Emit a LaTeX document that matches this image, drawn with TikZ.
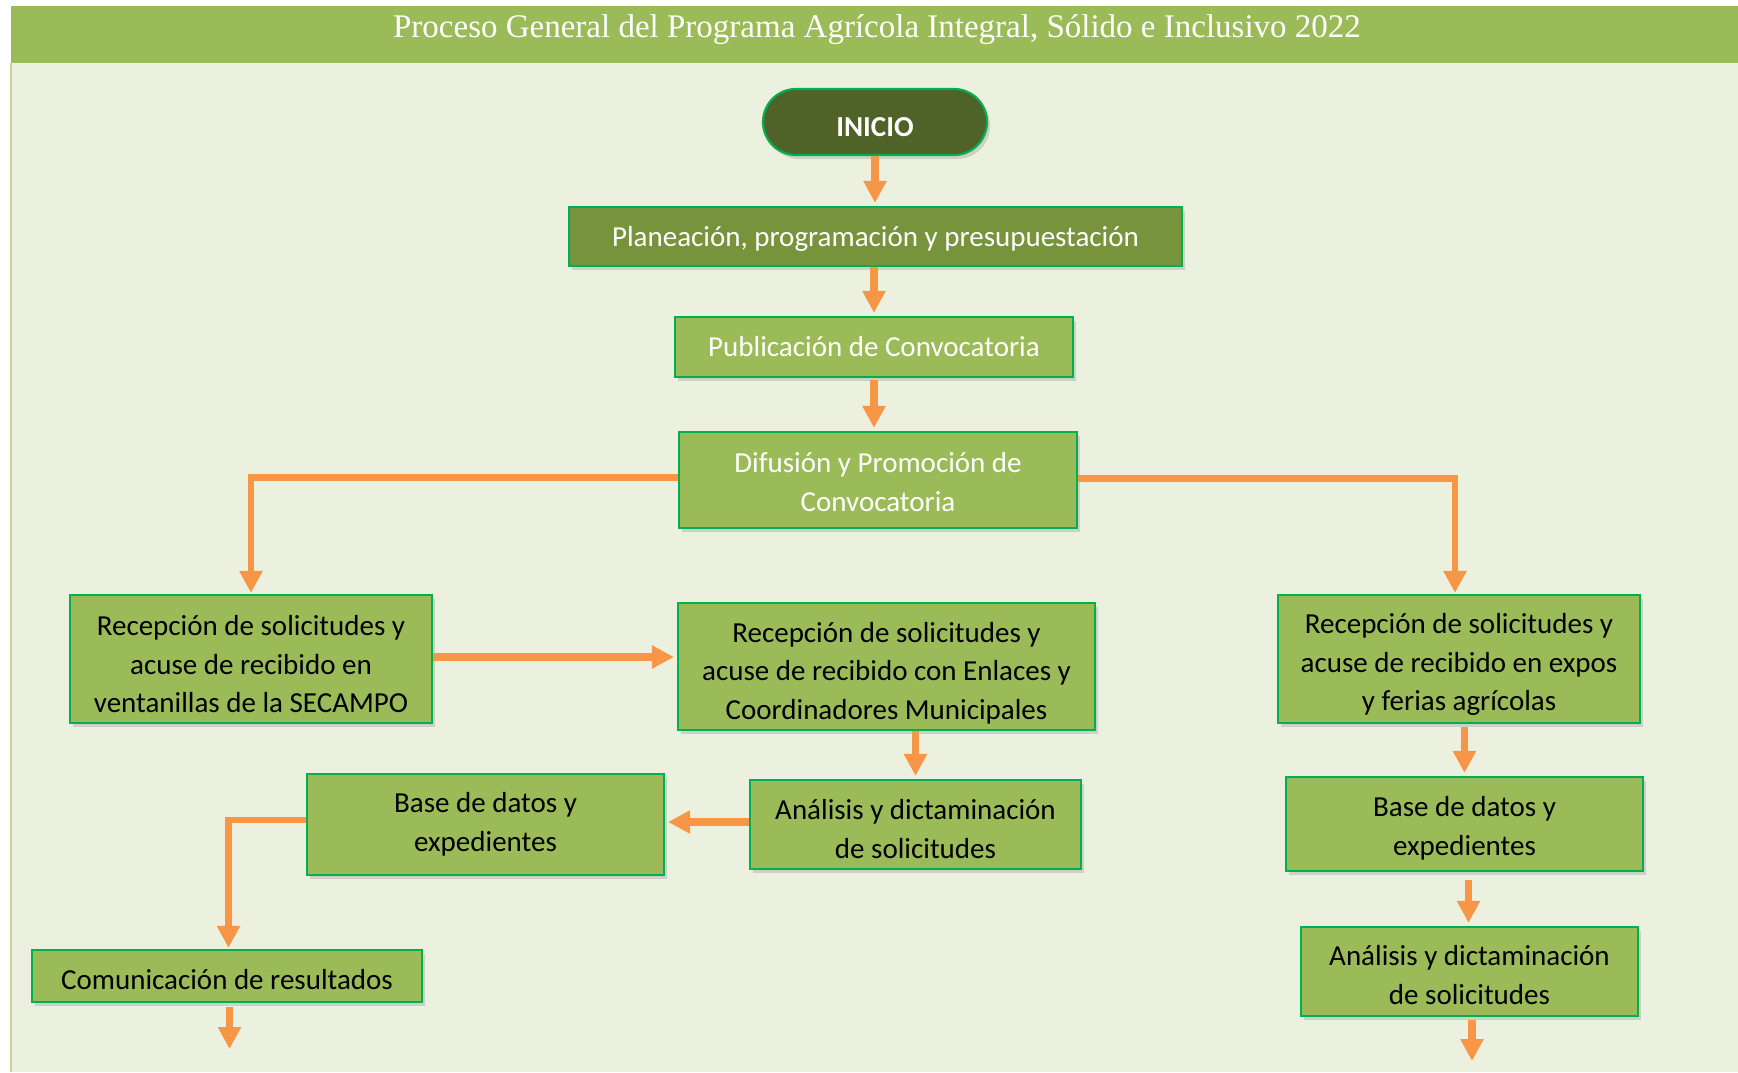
\documentclass[tikz,border=0pt]{standalone}
\usepackage{fontspec}
\setmainfont{Carlito}
\newfontfamily\titlefont{Liberation Serif}
\usetikzlibrary{arrows.meta,shadows,calc}
\definecolor{bgc}{HTML}{EBF1DE}
\definecolor{bandc}{HTML}{9BBB59}
\definecolor{boxfill}{HTML}{9BBB59}
\definecolor{darkfill}{HTML}{77933C}
\definecolor{startfill}{HTML}{4F6228}
\definecolor{boxline}{HTML}{00B050}
\definecolor{arrowc}{HTML}{F79646}
\definecolor{edgec}{HTML}{C3D69B}
\tikzset{
  box/.style={rectangle, draw=boxline, line width=2.2pt, fill=boxfill, inner sep=0pt,
    drop shadow={opacity=0.28, shadow xshift=3pt, shadow yshift=-4pt}},
  lab/.style={align=center, inner sep=0pt, font=\fontsize{29}{38.5}\selectfont},
  wlab/.style={lab, text=white},
  flow/.style={draw=arrowc, line width=7.5pt, -{Triangle[width=22pt,length=22pt]}, shorten >=3pt},
  elbow/.style={draw=arrowc, line width=6.5pt, -{Triangle[width=22pt,length=22pt]}, shorten >=1pt},
}
\begin{document}
\begin{tikzpicture}[x=1pt,y=-1pt]
\useasboundingbox (0,0) rectangle (1738,1072);
% background
\fill[white] (0,0) rectangle (1738,1072);
\fill[bgc] (11,63) rectangle (1738,1072);
\draw[edgec, line width=1.5pt] (11,63) -- (11,1072);
\fill[bandc] (11,5.5) rectangle (1738,63);
\node[text=white, font=\titlefont\fontsize{33}{38}\selectfont] (title) at (877,30) {Proceso General del Programa Agrícola Integral, Sólido e Inclusivo 2022};

% nodes
\node[box, fill=startfill, rounded corners=33pt, minimum width=224pt, minimum height=66pt,
  label={[wlab, font=\bfseries\fontsize{29}{34}\selectfont, yshift=-5pt]center:INICIO}] (inicio) at (875,122) {};
\node[box, fill=darkfill, minimum width=613pt, minimum height=59pt,
  label={[wlab, yshift=-2.2pt]center:{Planeación, programación y presupuestación}}] (plan) at (875.5,236.5) {};
\node[box, minimum width=398pt, minimum height=60pt,
  label={[wlab, yshift=0.5pt]center:{Publicación de Convocatoria}}] (pub) at (874,347) {};
\node[box, minimum width=398pt, minimum height=96pt,
  label={[wlab, yshift=-2.2pt]center:{Difusión y Promoción de\\Convocatoria}}] (dif) at (878,480) {};
\node[box, minimum width=362pt, minimum height=128pt,
  label={[lab, yshift=-5.5pt]center:{Recepción de solicitudes y\\acuse de recibido en\\ventanillas de la SECAMPO}}] (sec) at (251,659) {};
\node[box, minimum width=417pt, minimum height=127pt,
  label={[lab, yshift=-6.5pt]center:{Recepción de solicitudes y\\acuse de recibido con Enlaces y\\Coordinadores Municipales}}] (enl) at (886.5,666.5) {};
\node[box, minimum width=362pt, minimum height=128pt,
  label={[lab, yshift=-5.5pt]center:{Recepción de solicitudes y\\acuse de recibido en expos\\y ferias agrícolas}}] (exp) at (1459,659) {};
\node[box, minimum width=331pt, minimum height=89pt,
  label={[lab, yshift=-4.4pt]center:{Análisis y dictaminación\\de solicitudes}}] (anm) at (915.5,824.5) {};
\node[box, minimum width=357pt, minimum height=101pt,
  label={[lab]center:{Base de datos y\\expedientes}}] (basel) at (485.5,824.5) {};
\node[box, minimum width=390pt, minimum height=52pt,
  label={[lab, yshift=-3.3pt]center:{Comunicación de resultados}}] (com) at (227,976) {};
\node[box, minimum width=357pt, minimum height=94pt,
  label={[lab, yshift=-4.4pt]center:{Base de datos y\\expedientes}}] (baser) at (1464.5,824) {};
\node[box, minimum width=337pt, minimum height=89pt,
  label={[lab, yshift=-3.3pt]center:{Análisis y dictaminación\\de solicitudes}}] (anr) at (1469.5,971.5) {};

\coordinate (endl) at (229.5,1052);
\coordinate (endr) at (1472,1064);

% connectors
\draw[flow] (inicio.south) -- (inicio.south |- plan.north);
\draw[flow] (plan.south -| pub.north) -- (pub.north);
\draw[flow] ([yshift=-2pt]pub.south) -- (pub.south |- dif.north);
\draw[elbow] ([yshift=2.5pt]dif.west) -| (sec.north);
\draw[elbow] ([yshift=1.5pt]dif.east) -| ([xshift=-4pt]exp.north);
\draw[flow] ([yshift=2pt]sec.east) -- ([yshift=2pt]sec.east -| enl.west);
\draw[flow] (enl.south -| anm.north) -- (anm.north);
\draw[flow] ([yshift=2.5pt]anm.west) -- ([yshift=2.5pt]anm.west -| basel.east);
\draw[elbow] ([yshift=4.5pt]basel.west) -| ([xshift=1.5pt]com.north);
\draw[flow] ([yshift=-4pt]com.south -| endl) -- (endl);
\draw[flow] ([yshift=-3pt]exp.south -| baser.north) -- (baser.north);
\draw[flow] ([xshift=-1pt,yshift=-8pt]baser.south -| anr.north) -- ([xshift=-1pt]anr.north);
\draw[flow] ([yshift=-3pt]anr.south -| endr) -- (endr);
\end{tikzpicture}
\end{document}
